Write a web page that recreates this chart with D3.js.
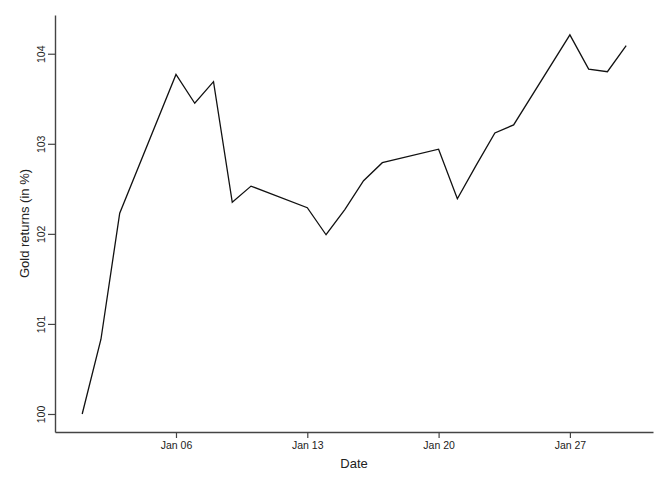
<!doctype html>
<html lang="en">
<head>
    <meta charset="UTF-8">
    <script src="https://d3js.org/d3.v7.min.js"></script>
    <title>Gold returns</title>
    <style>
        body { margin: 0; background: #fff; }
        .tick text { font: 10.5px "Liberation Sans", Arial, sans-serif; fill: #222; }
        .label { font: 13px "Liberation Sans", Arial, sans-serif; fill: #222; }
    </style>
</head>
<body>
<svg id="svg1" width="664" height="487"></svg>
<script>
    // trading days, Jan 2014
    var dates = ["2014-01-01", "2014-01-02", "2014-01-03", "2014-01-06", "2014-01-07", "2014-01-08",
        "2014-01-09", "2014-01-10", "2014-01-13", "2014-01-14", "2014-01-15", "2014-01-16",
        "2014-01-17", "2014-01-20", "2014-01-21", "2014-01-22", "2014-01-23", "2014-01-24",
        "2014-01-27", "2014-01-28", "2014-01-29", "2014-01-30"];
    var returns = [100.0, 100.83, 102.23, 103.77, 103.45, 103.69,
        102.35, 102.53, 102.29, 101.99, 102.27, 102.59,
        102.79, 102.94, 102.39, 102.76, 103.12, 103.21,
        104.21, 103.83, 103.80, 104.09];
    var xTicks = ["2014-01-06", "2014-01-13", "2014-01-20", "2014-01-27"];
    var yTicks = [100, 101, 102, 103, 104];

    var margin = {top: 15, right: 11, bottom: 55, left: 55};
    var width = 664 - margin.left - margin.right;
    var height = 487 - margin.top - margin.bottom;

    var parse = d3.utcParse("%Y-%m-%d");
    var data = dates.map(function (d, i) {
        return {date: parse(d), value: returns[i]};
    });

    var day = 24 * 3600 * 1000;
    var xExt = d3.extent(data, function (d) { return d.date; });
    var xScale = d3.scaleUtc()
        .domain([new Date(+xExt[0] - 1.45 * day), new Date(+xExt[1] + 1.43 * day)])
        .range([0, width]);
    var yScale = d3.scaleLinear().domain([99.8, 104.43]).range([height, 0]);

    var svg = d3.select("#svg1");
    var chart = svg.append("g")
        .attr("transform", "translate(" + margin.left + "," + margin.top + ")");

    var xAxis = d3.axisBottom(xScale)
        .tickValues(xTicks.map(parse))
        .tickFormat(d3.utcFormat("%b %d"))
        .tickSize(6).tickSizeOuter(0).tickPadding(4);
    var gx = chart.append("g")
        .attr("transform", "translate(0," + height + ")")
        .call(xAxis);

    var yAxis = d3.axisLeft(yScale)
        .tickValues(yTicks)
        .tickFormat(d3.format("d"))
        .tickSize(7).tickSizeOuter(0);
    var gy = chart.append("g").call(yAxis);
    // rotated tick labels, like base R
    gy.selectAll(".tick text")
        .attr("transform", "rotate(-90)")
        .attr("x", 0)
        .attr("y", -10)
        .attr("dy", 0)
        .style("text-anchor", "middle");

    [gx, gy].forEach(function (g) {
        g.select(".domain").attr("stroke", "#444").attr("stroke-width", 1.4);
        g.selectAll(".tick line").attr("stroke", "#444").attr("stroke-width", 1.2);
    });

    var line = d3.line()
        .x(function (d) { return xScale(d.date); })
        .y(function (d) { return yScale(d.value); });

    chart.append("path")
        .datum(data)
        .attr("fill", "none")
        .attr("stroke", "#111")
        .attr("stroke-width", 1.3)
        .attr("stroke-linejoin", "miter")
        .attr("d", line);

    svg.append("text")
        .attr("class", "label")
        .attr("x", margin.left + width / 2)
        .attr("y", 468)
        .style("text-anchor", "middle")
        .text("Date");

    svg.append("text")
        .attr("class", "label")
        .attr("transform", "translate(29," + (margin.top + height / 2) + ") rotate(-90)")
        .style("text-anchor", "middle")
        .text("Gold returns (in %)");
</script>
</body>
</html>
